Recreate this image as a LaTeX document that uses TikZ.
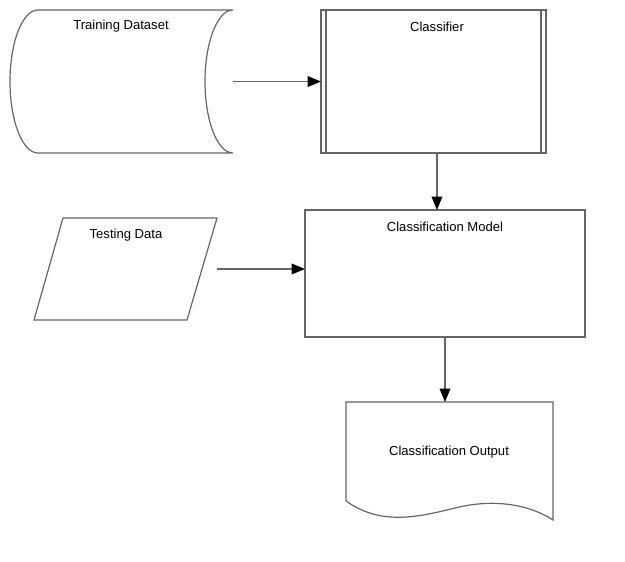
\documentclass[tikz,border=0pt]{standalone}
\usepackage{fontspec}
\setmainfont{Liberation Sans}
\usetikzlibrary{arrows.meta,fit}
\tikzset{
	shape line/.style={draw=black!60,line width=0.9pt},
	flow/.style={draw=black!60,line width=0.9pt,-{Triangle[length=10pt,width=8pt,color=black]}},
	area/.style={inner sep=0pt,outer sep=0pt},
	label text/.style={font=\fontsize{9.8}{11}\selectfont,inner sep=1pt}
}
\begin{document}
\begin{tikzpicture}[x=0.75pt,y=-0.75pt]
	\useasboundingbox (0,0) rectangle (625,561);
	%training dataset (stored data)
	\draw[shape line] (38,10) -- (233,10) .. controls (217.5,10) and (205,42) .. (205,81.5)
		.. controls (205,121) and (217.5,153) .. (233,153) -- (38,153)
		.. controls (22.5,153) and (10,121) .. (10,81.5)
		.. controls (10,42) and (22.5,10) .. (38,10);
	\node[area,fit={(10,10) (233,153)}] (train) {};
	\node[label text] (train-t) at (121,26.5) {Training Dataset};
	%classifier (predefined process)
	\node[area,shape line,fit={(321,10) (546,153)}] (cls) {};
	\draw[shape line] (326,10) -- (326,153) (541,10) -- (541,153);
	\node[label text] (cls-t) at (437,26.5) {Classifier};
	%testing data
	\draw[shape line] (63,218) -- (217,218) -- (187,320) -- (34,320) -- cycle;
	\node[area,fit={(34,218) (217,320)}] (test) {};
	\node[label text] (test-t) at (126,235.5) {Testing Data};
	%classification model
	\node[area,shape line,fit={(305,210) (585,337)}] (mdl) {};
	\node[label text] (mdl-t) at (445,226.5) {Classification Model};
	%output (document)
	\draw[shape line] (346,501) -- (346,402) -- (553,402) -- (553,520)
		.. controls (530,505) and (495,498) .. (455,508)
		.. controls (415,518) and (380,525) .. (346,501);
	\node[area,fit={(346,402) (553,520)}] (out) {};
	\node[label text] (out-t) at (449,452.5) {Classification Output};
	%connectors
	\draw[flow] (train.east) -- (cls.west);
	\draw[flow] ([xshift=2.6pt]cls.south) -- ([xshift=2.6pt]cls.south |- mdl.north);
	\draw[flow] (test.east) -- (test.east -| mdl.west);
	\draw[flow] (mdl.south) -- (mdl.south |- out.north);
\end{tikzpicture}
\end{document}
